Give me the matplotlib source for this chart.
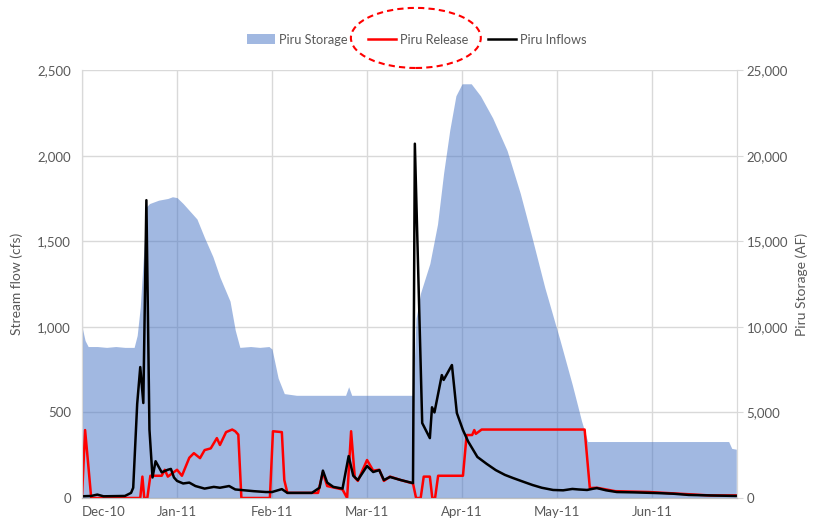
import matplotlib
matplotlib.use('Agg')
import matplotlib.pyplot as plt
from matplotlib.patches import Ellipse, Patch
from matplotlib.lines import Line2D
from matplotlib.ticker import FuncFormatter

plt.rcParams['font.family'] = ['Lato', 'DejaVu Sans']

# day index counted from 1 Dec 2010
MONTH_LABELS = ['Dec-10', 'Jan-11', 'Feb-11', 'Mar-11', 'Apr-11', 'May-11', 'Jun-11']
MONTH_DAYS = [0, 31, 62, 93, 124, 155, 186]

# Piru Storage (AF)
storage_days = [0, 1, 2, 5, 8, 11, 14, 17, 18, 19, 20, 21, 22, 25, 28, 29.5, 31, 33, 35,
                37.5, 40, 42.7, 45, 48.3, 50, 51.5, 55, 58, 61, 62, 64, 66, 70, 80, 86,
                87, 88, 95, 108, 109, 110.5, 113.5, 116, 118, 120, 122, 124, 127, 130,
                134, 138.7, 143, 147, 151, 156, 160, 163, 165, 168, 180, 200, 211, 212, 213.5]
storage_af = [10000, 9200, 8850, 8850, 8800, 8850, 8800, 8800, 9500, 11150, 14000, 17000,
              17200, 17400, 17500, 17600, 17550, 17200, 16800, 16300, 15200, 14100, 12900,
              11500, 9800, 8800, 8850, 8800, 8850, 8700, 7000, 6100, 6000, 6000, 6000,
              6500, 6000, 6000, 6000, 10500, 12000, 13700, 16000, 19000, 21500, 23500,
              24200, 24200, 23500, 22200, 20300, 17800, 15100, 12300, 9200, 6600, 4500,
              3300, 3300, 3300, 3300, 3300, 2900, 2850]

# Piru Release (cfs)
release_days = [0, 1, 2, 3, 16, 19, 19.7, 20.3, 21.3, 22.3, 26, 27, 28, 31, 32.6, 35, 36.5,
                38.5, 40, 42, 44, 45, 47, 49, 50, 51, 52, 61.3, 62.3, 65.2, 66, 67, 77,
                78.6, 80, 85, 86.5, 87.8, 89, 90, 93, 95, 97, 98.5, 100.5, 104, 108, 109,
                110.5, 111.5, 113.5, 114.3, 115.2, 116.2, 124.3, 125.5, 127.3, 128, 128.5,
                130.4, 164, 165.7, 168, 174, 185, 195, 205, 213.5]
release_cfs = [10, 397, 200, 0, 0, 0, 125, 0, 0, 130, 130, 165, 125, 165, 130, 235, 262,
               233, 280, 290, 350, 310, 385, 400, 390, 370, 0, 0, 390, 385, 105, 30, 30,
               150, 70, 50, 0, 390, 120, 100, 222, 160, 165, 100, 125, 105, 85, 0,
               0, 125, 125, 0, 0, 130, 130, 368, 368, 397, 375,
               400, 400, 58, 60, 40, 35, 25, 15, 15]

# Piru Inflows (cfs)
inflow_days = [0, 3, 5, 7, 14, 16, 16.7, 18, 19, 20, 21, 22, 23, 24, 26, 28, 29, 30, 31, 33,
               35, 37, 40, 43, 45, 48, 50, 53, 56, 60, 62, 65.2, 67, 75, 77.5, 78.6, 80, 82,
               85, 87, 88.5, 90, 93, 95, 97, 98.5, 100.5, 104, 108, 108.6, 111, 113.5,
               114.2, 115, 117.4, 118, 120.7, 122.3, 124.3, 126, 129, 132, 135, 138,
               140.6, 144, 147, 150, 153.7, 157, 160, 162, 164.8, 167, 168, 171, 174.5,
               180, 187.6, 193, 198, 205, 213.5]
inflow_cfs = [10, 12, 20, 10, 12, 30, 60, 550, 765, 555, 1740, 400, 120, 215, 150, 165, 170,
              120, 100, 85, 90, 70, 55, 65, 60, 70, 50, 45, 40, 35, 35, 52, 30, 30, 60, 160,
              90, 65, 55, 245, 130, 105, 187, 152, 163, 105, 123, 105, 87, 2070, 438, 350,
              530, 500, 718, 690, 777, 497, 397, 330, 240, 200, 163, 135,
              117, 95, 76, 60, 47, 45, 53, 50, 47, 55, 58, 45, 35,
              33, 29, 25, 18, 15, 12]

TEXT_COLOR = '#595959'
GRID_COLOR = '#d9d9d9'

fig = plt.figure(figsize=(8.17, 5.27), dpi=100)
ax2 = fig.add_axes([0.1004, 0.055, 0.8016, 0.812])
ax1 = ax2.twinx()
# flows on the left axis, storage on the right axis (drawn behind)
ax1.yaxis.tick_left()
ax1.yaxis.set_label_position('left')
ax2.yaxis.tick_right()
ax2.yaxis.set_label_position('right')
ax1.set_zorder(ax2.get_zorder() + 1)
ax1.patch.set_visible(False)

ax2.fill_between(storage_days, storage_af, 0, color='#4472c4', alpha=0.5,
                 linewidth=0, zorder=2)
ax2.set_ylim(0, 25000)
ax2.set_yticks(range(0, 25001, 5000))
ax2.set_axisbelow(True)
ax2.grid(True, color=GRID_COLOR, linewidth=1)

ax1.plot(release_days, release_cfs, color='#ff0000', linewidth=1.8)
ax1.plot(inflow_days, inflow_cfs, color='black', linewidth=1.8)
ax1.set_ylim(0, 2500)
ax1.set_yticks(range(0, 2501, 500))

for ax in (ax1, ax2):
    ax.set_xlim(0, 213.7)
    ax.set_xticks(MONTH_DAYS)
    ax.yaxis.set_major_formatter(FuncFormatter(lambda v, p: f'{int(v):,}'))
    for s in ax.spines.values():
        s.set_color(GRID_COLOR)
    ax.spines['top'].set_visible(False)
    ax.spines['bottom'].set_color('#bfbfbf')

ax2.set_xticklabels(MONTH_LABELS)
ax2.get_xticklabels()[0].set_ha('left')
ax1.tick_params(axis='x', labelbottom=False, length=0)
ax2.tick_params(axis='x', length=0, labelsize=9.5, labelcolor=TEXT_COLOR, pad=6)
ax1.tick_params(axis='y', length=0, labelsize=9.5, labelcolor=TEXT_COLOR, pad=8)
ax2.tick_params(axis='y', length=4, color=GRID_COLOR, labelsize=9.5,
                labelcolor=TEXT_COLOR, pad=3)

ax1.set_ylabel('Stream flow (cfs)', color=TEXT_COLOR, fontsize=10, labelpad=10)
ax2.set_ylabel('Piru Storage (AF)', color=TEXT_COLOR, fontsize=10, labelpad=5)

handles = [Patch(facecolor='#a1b8e1', edgecolor='none'),
           Line2D([], [], color='#ff0000', linewidth=1.8),
           Line2D([], [], color='black', linewidth=1.8)]
fig.legend(handles, ['Piru Storage', 'Piru Release', 'Piru Inflows'],
           loc='center', bbox_to_anchor=(0.51, 0.925), ncol=3, frameon=False,
           fontsize=9.2, labelcolor=TEXT_COLOR, handlelength=2.2,
           handletextpad=0.3, columnspacing=1.6, handleheight=0.8)

# dashed highlight around the release legend entry
fig.patches.append(Ellipse((0.509, 0.928), 0.159, 0.114, transform=fig.transFigure,
                           fill=False, edgecolor='#ff0000', linestyle=(0, (3, 2)),
                           linewidth=1.5))

fig.savefig('out.png', dpi=100)
